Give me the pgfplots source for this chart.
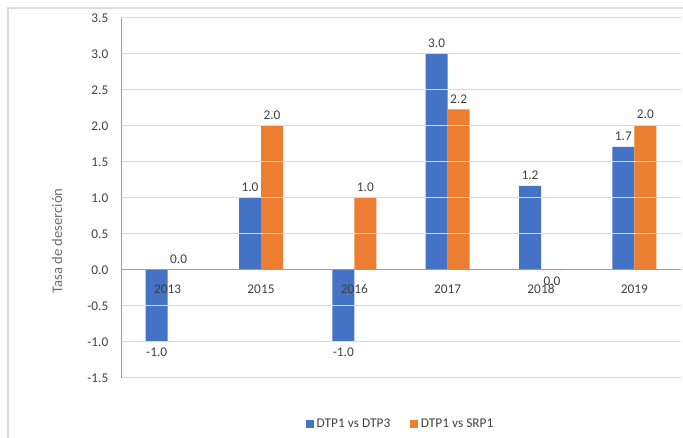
\documentclass[border=0pt]{standalone}
\usepackage{pgfplots}
\pgfplotsset{compat=1.18}
\usepackage{fontspec}
\setmainfont{Carlito}
\definecolor{cblue}{HTML}{4472C4}
\definecolor{corange}{HTML}{ED7D31}
\definecolor{gridc}{HTML}{D9D9D9}
\definecolor{txt}{HTML}{404040}
\definecolor{ylab}{HTML}{6F6F6F}
\definecolor{axisblue}{HTML}{7F9FD8}
\pgfplotstableread{
x y l
0 -1 -1.0
1 1 1.0
2 -1 -1.0
3 3 3.0
4 1.17 1.2
5 1.71 1.7
}\dtpthree
\pgfplotstableread{
x y l
0 0 0.0
1 2 2.0
2 1 1.0
3 2.23 2.2
4 -0.002 0.0
5 2.01 2.0
}\srpone
\begin{document}
\begin{tikzpicture}[x=0.75pt,y=0.75pt]
\useasboundingbox (0,0) rectangle (683,438);
\draw[gridc, line width=0.9pt] (8,-5) -- (8,430) -- (690,430);
\node[rotate=90, font=\fontsize{11}{13}\selectfont, text=ylab] at (57,197) {Tasa de deserción};
\begin{axis}[
  at={(90.75pt,45pt)}, anchor=south west,
  scale only axis, width=420pt, height=270pt,
  ymin=-1.5, ymax=3.5, ytick={-1.5,-1,...,3.5},
  xmin=-0.5, xmax=5.5, xtick={0,...,5},
  xticklabels={2013,2015,2016,2017,2018,2019},
  axis y line*=left, axis x line*=middle,
  axis on top,
  ymajorgrids, grid style={gridc, line width=0.75pt},
  axis line style={axisblue, line width=0.75pt, -},
  tick style={draw=none},
  ticklabel style={font=\fontsize{10}{12}\selectfont, text=txt},
  yticklabel style={xshift=-6pt},
  xticklabel style={yshift=-3pt},
  /pgf/number format/assume math mode=true,
  yticklabel={\pgfmathprintnumber[fixed,fixed zerofill,precision=1]{\tick}},
  ybar=0pt, bar width=16.5pt,
  point meta=explicit symbolic,
  visualization depends on={ifthenelse(rawy<0,-1,1) \as \sgn},
  nodes near coords,
  every node near coord/.append style={font=\fontsize{10}{12}\selectfont, text=txt, anchor=center, yshift=\sgn*8pt},
  legend style={at={(0.5,-0.128)}, anchor=center, draw=none, fill=none,
    font=\fontsize{10}{12}\selectfont, text=txt, legend columns=2,
    /tikz/every even column/.append style={column sep=13pt}},
  legend image code/.code={\fill[#1] (0pt,-3pt) rectangle (6pt,3pt);},
]
\addplot[fill=cblue, draw=none] table[x=x, y=y, meta=l] {\dtpthree};
\addlegendentry{DTP1 vs DTP3}
\addplot[fill=corange, draw=none] table[x=x, y=y, meta=l] {\srpone};
\addlegendentry{DTP1 vs SRP1}
\end{axis}
\end{tikzpicture}
\end{document}
